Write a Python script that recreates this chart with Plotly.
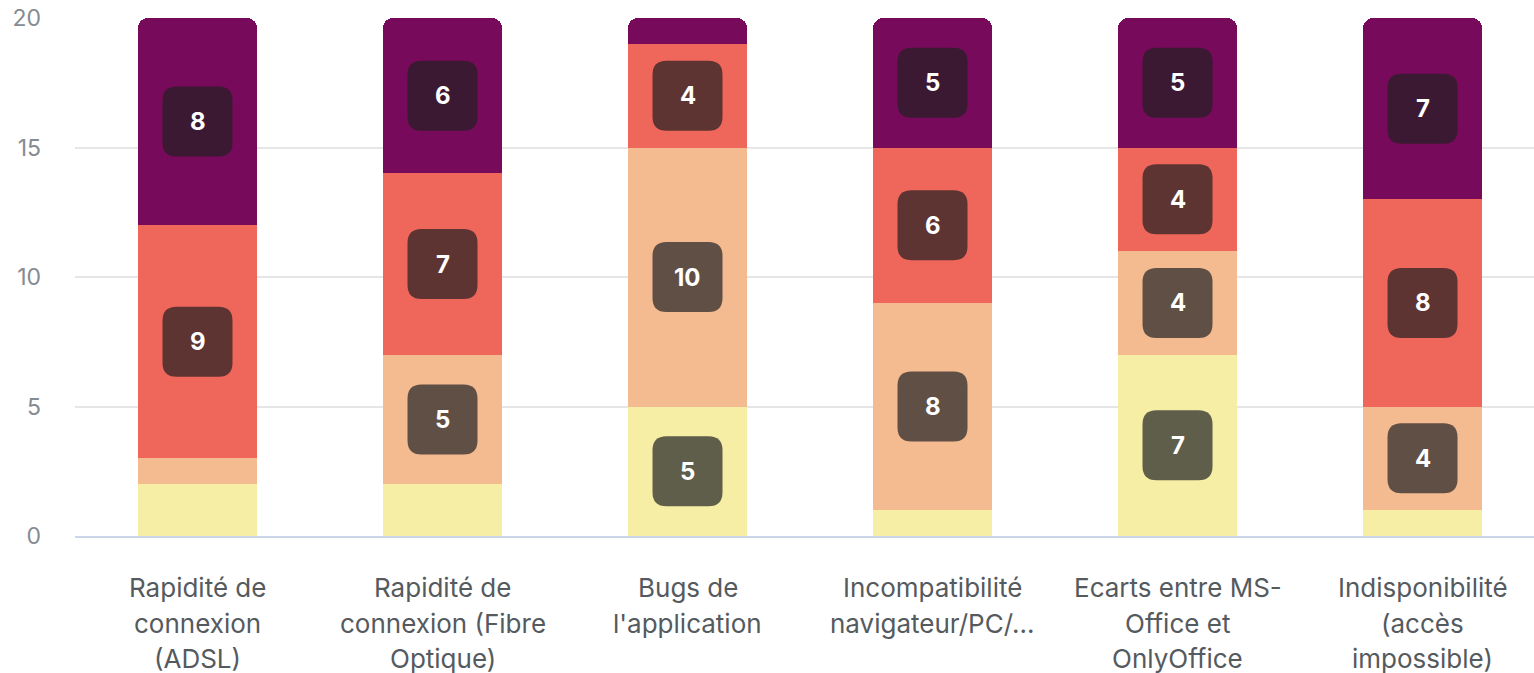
import plotly.graph_objects as go

categories = [
    "Rapidité de<br>connexion<br>(ADSL)",
    "Rapidité de<br>connexion (Fibre<br>Optique)",
    "Bugs de<br>l'application",
    "Incompatibilité<br>navigateur/PC/...",
    "Ecarts entre MS-<br>Office et<br>OnlyOffice",
    "Indisponibilité<br>(accès<br>impossible)",
]
series_names = ["Série 1", "Série 2", "Série 3", "Série 4"]
values_s1 = [2, 2, 5, 1, 7, 1]
values_s2 = [1, 5, 10, 8, 4, 4]
values_s3 = [9, 7, 4, 6, 4, 8]
values_s4 = [8, 6, 1, 5, 5, 7]
y_ticks = [0, 5, 10, 15, 20]

colors = ["#F7EEA6", "#F5BB90", "#EF665B", "#770A5A"]
box_colors = ["#5F5E4A", "#5F4F45", "#5E3432", "#3C1932"]
all_values = [values_s1, values_s2, values_s3, values_s4]
label_min = 4

xs = list(range(len(categories)))
fig = go.Figure()
for name, vals, col in zip(series_names, all_values, colors):
    fig.add_trace(go.Bar(x=xs, y=vals, name=name, marker=dict(color=col, line=dict(width=0)),
                         hoverinfo="y"))

h, r = 35, 14
path = (f"M {-h+r},{-h} L {h-r},{-h} Q {h},{-h} {h},{-h+r} L {h},{h-r} Q {h},{h} {h-r},{h} "
        f"L {-h+r},{h} Q {-h},{h} {-h},{h-r} L {-h},{-h+r} Q {-h},{-h} {-h+r},{-h} Z")

shapes = []
annotations = []
base = [0] * len(categories)
for si, vals in enumerate(all_values):
    for i, v in enumerate(vals):
        mid = base[i] + v / 2
        if v >= label_min:
            shapes.append(dict(type="path", xref="x", yref="y", xsizemode="pixel", ysizemode="pixel",
                               xanchor=i, yanchor=mid, path=path,
                               fillcolor=box_colors[si], line=dict(width=0), layer="above"))
            annotations.append(dict(x=i, y=mid, xref="x", yref="y", text=f"<b>{v}</b>",
                                    showarrow=False, font=dict(family="Inter", size=24, color="#FFFFFF")))
        base[i] += v

# category labels, line by line
for i, cat in enumerate(categories):
    for li, line in enumerate(cat.split("<br>")):
        annotations.append(dict(x=i, y=0, xref="x", yref="paper", yanchor="middle",
                                yshift=-51.5 - 35.5 * li, text=line, showarrow=False,
                                font=dict(family="Inter", size=26, color="#555A5E")))

fig.update_layout(
    width=1534, height=673,
    margin=dict(l=75, r=0, t=18, b=137),
    paper_bgcolor="white", plot_bgcolor="white",
    barmode="stack", bargap=0.514, barcornerradius=10,
    showlegend=False,
    font=dict(family="Inter", color="#666666"),
    xaxis=dict(range=[-0.5, 5.455], tickvals=xs, ticktext=[""] * len(xs), showgrid=False,
               showline=True, linecolor="#CCD6EB", linewidth=2, ticks="", zeroline=False, fixedrange=True),
    yaxis=dict(range=[0, 20], tickvals=y_ticks, showgrid=True, gridcolor="#E6E6E6", gridwidth=1.5,
               zeroline=False, showline=False, ticks="", ticklabelstandoff=33,
               tickfont=dict(family="Inter", size=23, color="#858B91")),
    shapes=shapes,
    annotations=annotations,
)

fig.write_html("out.html", config={"displayModeBar": False},
               post_script="document.body.style.margin='0';document.body.style.overflow='hidden';")
